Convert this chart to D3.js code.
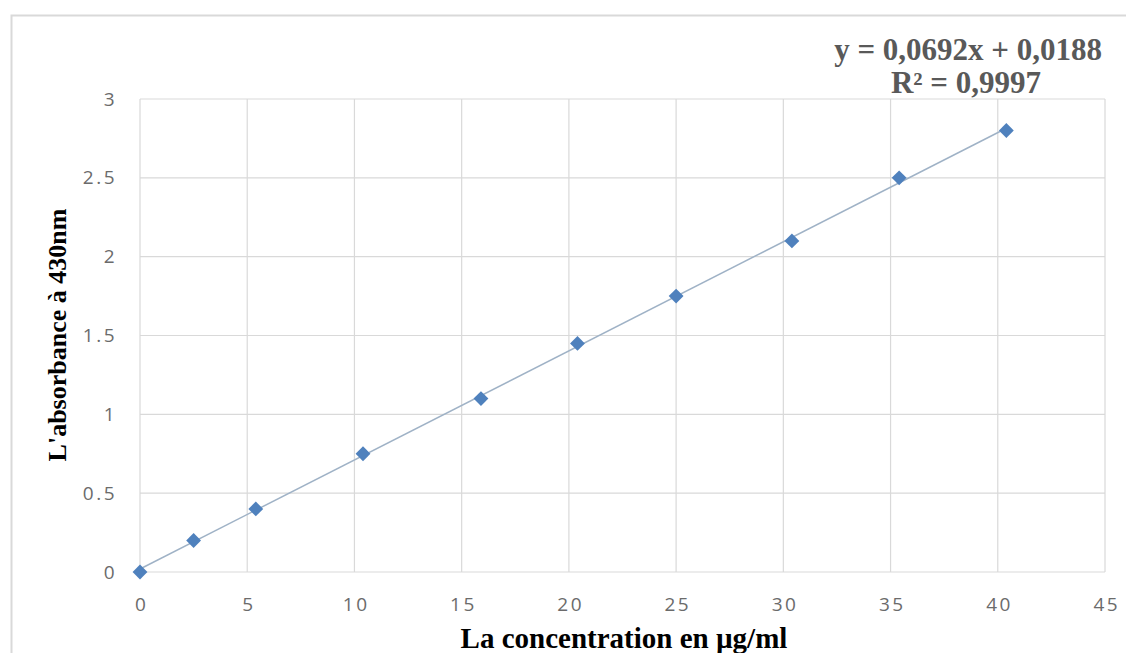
<!DOCTYPE html>
<html>
<head>
<meta charset="utf-8">
<script src="https://cdn.jsdelivr.net/npm/d3@7"></script>
<style>
  body { margin: 0; background: #fff; }
  svg { display: block; }
</style>
</head>
<body>
<div id="chart"></div>
<script>
// donnees
const concentration = [0, 2.5, 5.4, 10.4, 15.9, 20.4, 25, 30.4, 35.4, 40.4];
const absorbance = [0, 0.2, 0.4, 0.75, 1.1, 1.45, 1.75, 2.1, 2.5, 2.8];
const xTicks = [0, 5, 10, 15, 20, 25, 30, 35, 40, 45];
const yTicks = [0, 0.5, 1, 1.5, 2, 2.5, 3];
const slope = 0.0692, intercept = 0.0188;
const equationLabel = "y = 0,0692x + 0,0188";
const r2Label = "R² = 0,9997";

const width = 1126, height = 653;
const margin = { top: 99, right: 21, bottom: 81, left: 140 };

const svg = d3.select("#chart").append("svg")
  .attr("width", width)
  .attr("height", height);

// cadre du graphique
svg.append("rect")
  .attr("x", 11.5).attr("y", 15.5)
  .attr("width", 1130).attr("height", 660)
  .attr("fill", "none").attr("stroke", "#d9d9d9").attr("stroke-width", 2);

const x = d3.scaleLinear().domain([0, 45]).range([margin.left, width - margin.right]);
const y = d3.scaleLinear().domain([0, 3]).range([height - margin.bottom, margin.top]);

// grille
svg.append("g").selectAll("line").data(yTicks).join("line")
  .attr("x1", x(0)).attr("x2", x(45))
  .attr("y1", d => y(d)).attr("y2", d => y(d))
  .attr("stroke", "#d9d9d9").attr("stroke-width", 1.2);
svg.append("g").selectAll("line").data(xTicks).join("line")
  .attr("x1", d => x(d)).attr("x2", d => x(d))
  .attr("y1", y(0)).attr("y2", y(3))
  .attr("stroke", "#d9d9d9").attr("stroke-width", 1.2);

// axes
const xAxis = svg.append("g")
  .attr("transform", `translate(0,${y(0)})`)
  .call(d3.axisBottom(x).tickValues(xTicks).tickSize(0).tickPadding(26));
const yAxis = svg.append("g")
  .attr("transform", `translate(${x(0)},0)`)
  .call(d3.axisLeft(y).tickValues(yTicks).tickSize(0).tickPadding(23).tickFormat(d3.format("")));
[xAxis, yAxis].forEach(a => {
  a.select(".domain").remove();
  a.selectAll("text")
    .attr("fill", "#6b6b6b")
    .style("font-family", "'Open Sans', sans-serif")
    .style("font-size", "19px")
    .style("letter-spacing", "2.5px");
});
xAxis.selectAll("text").attr("dx", "1.25px");

// droite de regression
const xr = d3.extent(concentration);
svg.append("line")
  .attr("x1", x(xr[0])).attr("y1", y(slope * xr[0] + intercept))
  .attr("x2", x(xr[1])).attr("y2", y(slope * xr[1] + intercept))
  .attr("stroke", "#9fb2c6").attr("stroke-width", 1.5);

// points (losanges)
svg.append("g").selectAll("path")
  .data(concentration.map((c, i) => [c, absorbance[i]]))
  .join("path")
  .attr("d", d3.symbol(d3.symbolSquare, 110))
  .attr("transform", d => `translate(${x(d[0])},${y(d[1])}) rotate(45)`)
  .attr("fill", "#4f81bd");

// titres des axes
svg.append("text")
  .attr("x", 624).attr("y", 648)
  .attr("text-anchor", "middle")
  .style("font-family", "'Liberation Serif', serif")
  .style("font-weight", "bold").style("font-size", "29px")
  .text("La concentration en µg/ml");
svg.append("text")
  .attr("transform", "translate(66,335) rotate(-90)")
  .attr("text-anchor", "middle")
  .style("font-family", "'Liberation Serif', serif")
  .style("font-weight", "bold").style("font-size", "26px")
  .text("L'absorbance à 430nm");

// equation
svg.append("text")
  .attr("x", 1102).attr("y", 60)
  .attr("text-anchor", "end")
  .attr("fill", "#595959")
  .style("font-family", "'Liberation Serif', serif")
  .style("font-weight", "bold").style("font-size", "31px")
  .text(equationLabel);
svg.append("text")
  .attr("x", 966).attr("y", 93)
  .attr("text-anchor", "middle")
  .attr("fill", "#595959")
  .style("font-family", "'Liberation Serif', serif")
  .style("font-weight", "bold").style("font-size", "31px")
  .text(r2Label);
</script>
</body>
</html>
